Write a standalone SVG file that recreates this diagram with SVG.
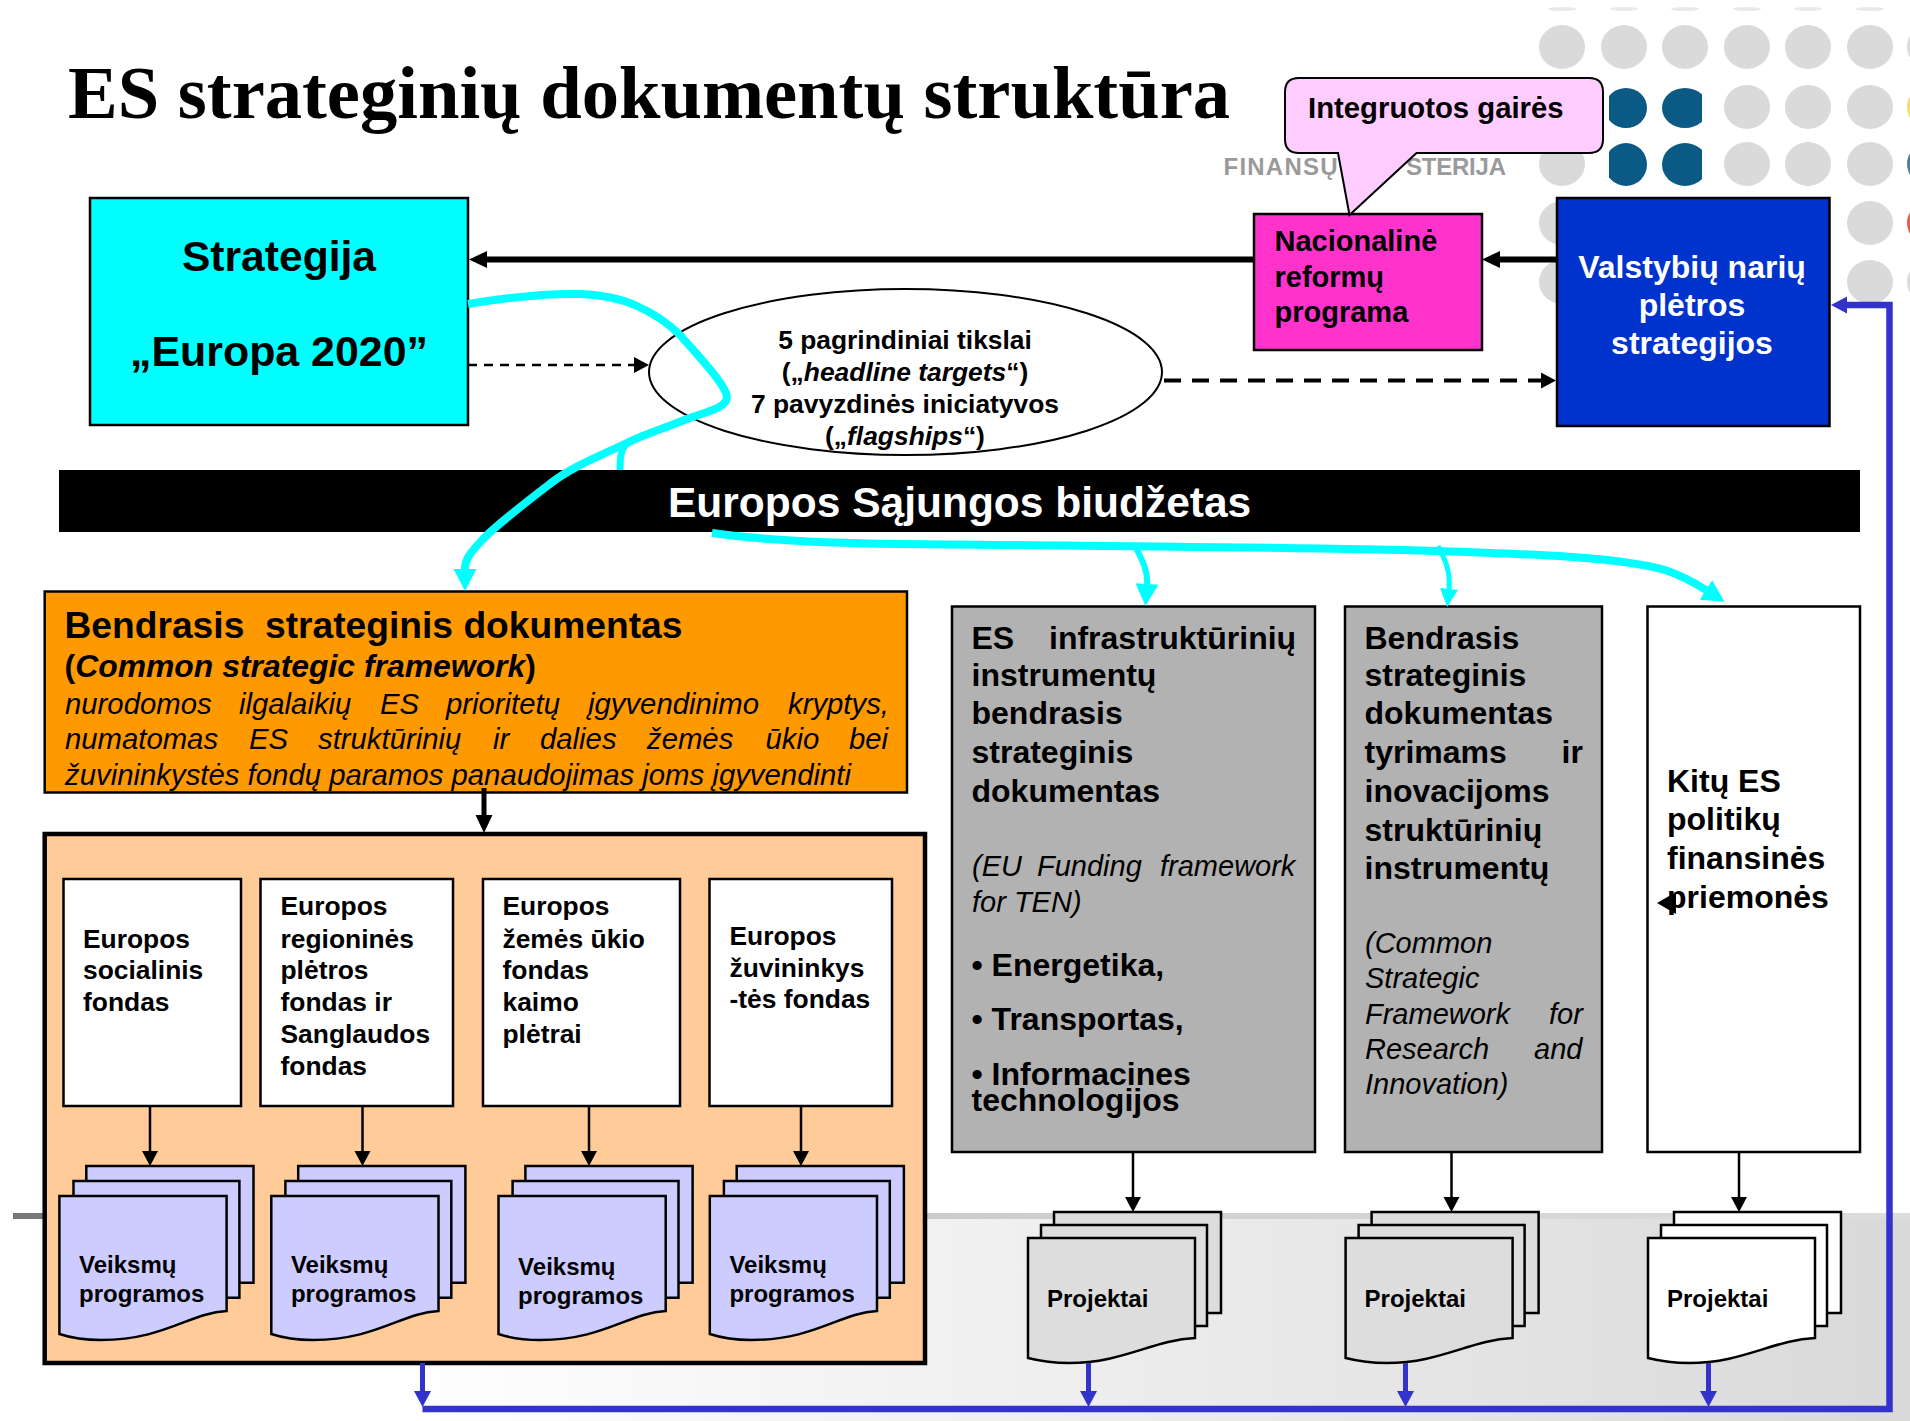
<svg xmlns="http://www.w3.org/2000/svg" xmlns:xlink="http://www.w3.org/1999/xlink" width="1910" height="1421" viewBox="0 0 1910 1421">
<style>
text{font-family:"Liberation Sans",Arial,sans-serif;font-weight:700;fill:#000}
.s{stroke:#000;stroke-width:2.5}
.i text{font-weight:400;font-style:italic}
.bi{font-style:italic}
.t26{font-size:26.4px}.t29{font-size:29px}.t32{font-size:32px}.t24{font-size:24px}
.dot{fill:#dadada}
.fund{fill:#fff;stroke:#000;stroke-width:2.5}
.vp{fill:#ccf;stroke:#000;stroke-width:2.5}
.pg{fill:#ddd;stroke:#000;stroke-width:2.5}
.pw{fill:#fff;stroke:#000;stroke-width:2.5}
.thin{stroke:#000;stroke-width:2.5;fill:none;marker-end:url(#ah)}
.blue{stroke:#33c;stroke-width:5;fill:none;marker-end:url(#ab)}
.cy{stroke:#0ff;fill:none}
</style>
<defs>
<linearGradient id="bg" gradientUnits="userSpaceOnUse" x1="400" y1="0" x2="1900" y2="0"><stop offset="0" stop-color="#fff"/><stop offset="1" stop-color="#d9d9d9"/></linearGradient>
<linearGradient id="bar" gradientUnits="userSpaceOnUse" x1="13" y1="0" x2="1910" y2="0"><stop offset="0" stop-color="#777"/><stop offset=".48" stop-color="#ccc"/><stop offset="1" stop-color="#ddd"/></linearGradient>
<clipPath id="dk"><rect x="1609" y="80" width="93" height="110"/></clipPath>
<marker id="ak" markerUnits="userSpaceOnUse" markerWidth="20" markerHeight="20" refX="0" refY="10" orient="auto" overflow="visible"><path d="M0,1.500L18,10L0,18.500z" fill="#000"/></marker>
<marker id="ah" markerUnits="userSpaceOnUse" markerWidth="16" markerHeight="18" refX="0" refY="9" orient="auto" overflow="visible"><path d="M0,1L15,9L0,17z" fill="#000"/></marker>
<marker id="ab" markerUnits="userSpaceOnUse" markerWidth="18" markerHeight="18" refX="0" refY="9" orient="auto" overflow="visible"><path d="M0,.5L16,9L0,17.500z" fill="#33c"/></marker>
<marker id="ac" markerUnits="userSpaceOnUse" markerWidth="24" markerHeight="24" refX="0" refY="12" orient="auto" overflow="visible"><path d="M0,.5L22,12L0,23.500z" fill="#0ff"/></marker>
<marker id="acs" markerUnits="userSpaceOnUse" markerWidth="20" markerHeight="20" refX="0" refY="10" orient="auto" overflow="visible"><path d="M0,1L18,10L0,19z" fill="#0ff"/></marker>
<path id="front-doc" d="M0,0H167.200V115C130,117 105,144 41.600,144C28,144 12,142 0,138Z"/>
<path id="proj-doc" d="M0,0H167V100C125,102 95,125 41,125C27,125 12,123 0,120Z"/>
</defs>

<g id="background">
<rect x="0" y="1216" width="1910" height="205" fill="url(#bg)"/>
<rect x="13" y="1213" width="1897" height="6" fill="url(#bar)"/>
<g fill="#e9e9e9">
<ellipse cx="1562" cy="9" rx="14" ry="2"/><ellipse cx="1624" cy="9" rx="14" ry="2"/><ellipse cx="1685" cy="9" rx="14" ry="2"/><ellipse cx="1747" cy="9" rx="14" ry="2"/><ellipse cx="1808" cy="9" rx="14" ry="2"/><ellipse cx="1870" cy="9" rx="14" ry="2"/>
</g>
<g class="dot">
<ellipse cx="1562" cy="47" rx="23" ry="22"/><ellipse cx="1624" cy="47" rx="23" ry="22"/><ellipse cx="1685" cy="47" rx="23" ry="22"/><ellipse cx="1747" cy="47" rx="23" ry="22"/><ellipse cx="1808" cy="47" rx="23" ry="22"/><ellipse cx="1870" cy="47" rx="23" ry="22"/><ellipse cx="1930" cy="47" rx="23" ry="22"/>
<ellipse cx="1747" cy="107" rx="23" ry="22"/><ellipse cx="1808" cy="107" rx="23" ry="22"/><ellipse cx="1870" cy="107" rx="23" ry="22"/>
<ellipse cx="1562" cy="164" rx="23" ry="22"/><ellipse cx="1747" cy="164" rx="23" ry="22"/><ellipse cx="1808" cy="164" rx="23" ry="22"/><ellipse cx="1870" cy="164" rx="23" ry="22"/>
<ellipse cx="1562" cy="223" rx="23" ry="22"/><ellipse cx="1870" cy="223" rx="23" ry="22"/>
<ellipse cx="1562" cy="282" rx="23" ry="22"/><ellipse cx="1870" cy="282" rx="23" ry="22"/><ellipse cx="1930" cy="282" rx="23" ry="22"/>
</g>
<ellipse cx="1930" cy="107" rx="23" ry="22" fill="#f4dc6a"/>
<ellipse cx="1930" cy="164" rx="23" ry="22" fill="#4d7f96"/>
<ellipse cx="1930" cy="223" rx="23" ry="22" fill="#e0604c"/>
<g fill="#0b5a85" clip-path="url(#dk)">
<ellipse cx="1626" cy="108" rx="21" ry="20"/><ellipse cx="1685" cy="108" rx="23" ry="20"/>
<ellipse cx="1626" cy="164.500" rx="21" ry="21.500"/><ellipse cx="1685" cy="164.500" rx="23" ry="21.500"/>
</g>
<text x="1223.500" y="175" font-size="24" textLength="114" style="fill:#9a9a9a">FINANSŲ</text>
<text x="1406" y="175" font-size="24" textLength="100" style="fill:#9a9a9a">STERIJA</text>
</g>

<text id="title" x="68" y="118" font-size="74" textLength="1162" lengthAdjust="spacingAndGlyphs" style="font-family:'Liberation Serif','Times New Roman',serif">ES strateginių dokumentų struktūra</text>

<g id="node-strategija">
<rect x="90" y="198" width="378" height="227" fill="#0ff" class="s"/>
<text x="279" y="271" font-size="42.600" text-anchor="middle">Strategija</text>
<text x="279" y="365.500" font-size="42.900" text-anchor="middle">„Europa 2020”</text>
</g>
<g id="node-nacionaline">
<rect x="1254" y="214" width="228" height="136" fill="#f3c" class="s"/>
<text x="1274.500" y="251" class="t29">Nacionalinė</text>
<text x="1274.500" y="287" class="t29">reformų</text>
<text x="1274.500" y="322" class="t29">programa</text>
</g>
<g id="node-gaires">
<path d="M1299,78H1589Q1603,78 1603,92V139Q1603,153 1589,153H1416.500L1349.500,215L1338,153H1299Q1285,153 1285,139V92Q1285,78 1299,78Z" fill="#fcf" stroke="#000" stroke-width="2"/>
<text x="1308" y="118" font-size="29.300">Integruotos gairės</text>
</g>
<g id="node-valstybiu">
<rect x="1557" y="198" width="272.500" height="228" fill="#03c" class="s"/>
<g text-anchor="middle" font-size="32">
<text x="1692" y="278" style="fill:#fff">Valstybių narių</text>
<text x="1692" y="316" style="fill:#fff">plėtros</text>
<text x="1692" y="354" style="fill:#fff">strategijos</text>
</g>
</g>
<g id="node-tikslai">
<ellipse cx="905.500" cy="372" rx="256.500" ry="83" fill="#fff" stroke="#000" stroke-width="2"/>
<g text-anchor="middle" class="t26">
<text x="905" y="349">5 pagrindiniai tikslai</text>
<text x="905" y="381">(„<tspan class="bi">headline targets</tspan>“)</text>
<text x="905" y="413">7 pavyzdinės iniciatyvos</text>
<text x="905" y="445">(„<tspan class="bi">flagships</tspan>“)</text>
</g>
</g>
<g id="node-biudzetas">
<rect x="59" y="470" width="1801" height="62" fill="#000"/>
<text x="668" y="517" font-size="42.500" style="fill:#fff">Europos Sąjungos biudžetas</text>
</g>
<g id="node-bendrasis">
<rect x="44.700" y="591.500" width="862.300" height="201" fill="#f90" class="s"/>
<text x="64.500" y="638" font-size="37.200" style="white-space:pre">Bendrasis  strateginis dokumentas</text>
<text x="64.500" y="677" font-size="31.900">(<tspan class="bi">Common strategic framework</tspan>)</text>
<g class="i" font-size="29.300">
<text y="714"><tspan x="65">nurodomos</tspan> <tspan x="239">ilgalaikių</tspan> <tspan x="380">ES</tspan> <tspan x="446">prioritetų</tspan> <tspan x="588">įgyvendinimo</tspan> <tspan x="788">kryptys,</tspan></text>
<text y="749"><tspan x="65">numatomas</tspan> <tspan x="249">ES</tspan> <tspan x="318">struktūrinių</tspan> <tspan x="493">ir</tspan> <tspan x="540">dalies</tspan> <tspan x="647">žemės</tspan> <tspan x="765.500">ūkio</tspan> <tspan x="849">bei</tspan></text>
<text x="65" y="785" textLength="786" lengthAdjust="spacingAndGlyphs">žuvininkystės fondų paramos panaudojimas joms įgyvendinti</text>
</g>
</g>
<g id="node-fondai">
<rect x="44.700" y="834" width="880.300" height="529" fill="#fc9" stroke="#000" stroke-width="4.500"/>
</g>
<g id="node-esf">
<rect x="63.500" y="879" width="177.500" height="227" class="fund"/>
<g class="t26"><text x="83" y="948">Europos</text><text x="83" y="979">socialinis</text><text x="83" y="1011">fondas</text></g>
</g>
<g id="node-erpf">
<rect x="260.500" y="879" width="192.500" height="227" class="fund"/>
<g class="t26"><text x="280.500" y="915">Europos</text><text x="280.500" y="948">regioninės</text><text x="280.500" y="979">plėtros</text><text x="280.500" y="1011">fondas ir</text><text x="280.500" y="1043">Sanglaudos</text><text x="280.500" y="1075">fondas</text></g>
</g>
<g id="node-ezuf">
<rect x="483" y="879" width="197" height="227" class="fund"/>
<g class="t26"><text x="502.500" y="915">Europos</text><text x="502.500" y="948">žemės ūkio</text><text x="502.500" y="979">fondas</text><text x="502.500" y="1011">kaimo</text><text x="502.500" y="1043">plėtrai</text></g>
</g>
<g id="node-ezf">
<rect x="709.500" y="879" width="182.500" height="227" class="fund"/>
<g class="t26"><text x="729.500" y="945">Europos</text><text x="729.500" y="977">žuvininkys</text><text x="729.500" y="1008">-tės fondas</text></g>
</g>
<g id="node-vp1">
<path class="vp" d="M86.300,1166H253.500V1282.700H230V1190H86.300Z"/><path class="vp" d="M73.500,1181H239.400V1297.700H220V1200H73.500Z"/>
<use xlink:href="#front-doc" href="#front-doc" x="59.400" y="1196" class="vp"/>
<text x="79" y="1273" class="t24">Veiksmų</text><text x="79" y="1302" class="t24">programos</text>
</g>
<g id="node-vp2" transform="translate(211.900,0)">
<path class="vp" d="M86.300,1166H253.500V1282.700H230V1190H86.300Z"/><path class="vp" d="M73.500,1181H239.400V1297.700H220V1200H73.500Z"/>
<use xlink:href="#front-doc" href="#front-doc" x="59.400" y="1196" class="vp"/>
<text x="79" y="1273" class="t24">Veiksmų</text><text x="79" y="1302" class="t24">programos</text>
</g>
<g id="node-vp3" transform="translate(439.100,0)">
<path class="vp" d="M86.300,1166H253.500V1282.700H230V1190H86.300Z"/><path class="vp" d="M73.500,1181H239.400V1297.700H220V1200H73.500Z"/>
<use xlink:href="#front-doc" href="#front-doc" x="59.400" y="1196" class="vp"/>
<text x="79" y="1275" class="t24">Veiksmų</text><text x="79" y="1304" class="t24">programos</text>
</g>
<g id="node-vp4" transform="translate(650.400,0)">
<path class="vp" d="M86.300,1166H253.500V1282.700H230V1190H86.300Z"/><path class="vp" d="M73.500,1181H239.400V1297.700H220V1200H73.500Z"/>
<use xlink:href="#front-doc" href="#front-doc" x="59.400" y="1196" class="vp"/>
<text x="79" y="1273" class="t24">Veiksmų</text><text x="79" y="1302" class="t24">programos</text>
</g>
<g id="node-infra">
<rect x="952" y="606.500" width="363" height="545.500" fill="#b2b2b2" class="s"/>
<g class="t32">
<text y="649"><tspan x="971.500">ES</tspan> <tspan x="1049">infrastruktūrinių</tspan></text>
<text x="971.500" y="686">instrumentų</text><text x="971.500" y="724">bendrasis</text><text x="971.500" y="763">strateginis</text><text x="971.500" y="802">dokumentas</text>
</g>
<g class="i" font-size="29">
<text y="876"><tspan x="972">(EU</tspan> <tspan x="1037">Funding</tspan> <tspan x="1160">framework</tspan></text>
<text x="972" y="912">for TEN)</text>
</g>
<g class="t32">
<text x="971.500" y="976">• Energetika,</text><text x="971.500" y="1030">• Transportas,</text><text x="971.500" y="1085">• Informacines</text><text x="971.500" y="1111">technologijos</text>
</g>
</g>
<g id="node-tyrimai">
<rect x="1345" y="606.500" width="257" height="545.500" fill="#b2b2b2" class="s"/>
<g class="t32">
<text x="1364.500" y="649">Bendrasis</text><text x="1364.500" y="686">strateginis</text><text x="1364.500" y="724">dokumentas</text>
<text y="763"><tspan x="1364.500">tyrimams</tspan> <tspan x="1561.500">ir</tspan></text>
<text x="1364.500" y="802">inovacijoms</text><text x="1364.500" y="841">struktūrinių</text><text x="1364.500" y="879">instrumentų</text>
</g>
<g class="i" font-size="29">
<text x="1365" y="953">(Common</text><text x="1365" y="988">Strategic</text>
<text y="1024"><tspan x="1365">Framework</tspan> <tspan x="1549">for</tspan></text>
<text y="1059"><tspan x="1365">Research</tspan> <tspan x="1534">and</tspan></text>
<text x="1365" y="1094">Innovation)</text>
</g>
</g>
<g id="node-kitu">
<rect x="1647.500" y="606.500" width="212.500" height="545.500" fill="#fff" class="s"/>
<g class="t32"><text x="1667" y="792">Kitų ES</text><text x="1667" y="830">politikų</text><text x="1667" y="869">finansinės</text><text x="1667" y="908">priemonės</text></g>
</g>
<g id="node-proj1">
<path class="pg" d="M1054,1212H1221V1313H1200V1230H1054Z"/><path class="pg" d="M1041,1225H1207V1326H1190V1240H1041Z"/>
<use xlink:href="#proj-doc" href="#proj-doc" x="1028" y="1238" class="pg"/>
<text x="1047" y="1307" class="t24">Projektai</text>
</g>
<g id="node-proj2" transform="translate(317.600,0)">
<path class="pg" d="M1054,1212H1221V1313H1200V1230H1054Z"/><path class="pg" d="M1041,1225H1207V1326H1190V1240H1041Z"/>
<use xlink:href="#proj-doc" href="#proj-doc" x="1028" y="1238" class="pg"/>
<text x="1047" y="1307" class="t24">Projektai</text>
</g>
<g id="node-proj3" transform="translate(620,0)">
<path class="pw" d="M1054,1212H1221V1313H1200V1230H1054Z"/><path class="pw" d="M1041,1225H1207V1326H1190V1240H1041Z"/>
<use xlink:href="#proj-doc" href="#proj-doc" x="1028" y="1238" class="pw"/>
<text x="1047" y="1307" class="t24">Projektai</text>
</g>

<g id="connectors">
<line x1="1254" y1="259.500" x2="487" y2="259.500" stroke="#000" stroke-width="6" marker-end="url(#ak)"/>
<line x1="1557" y1="259.500" x2="1500" y2="259.500" stroke="#000" stroke-width="6" marker-end="url(#ak)"/>
<line x1="468" y1="365" x2="634" y2="365" stroke="#000" stroke-width="2.500" stroke-dasharray="9 7" marker-end="url(#ah)"/>
<line x1="1164" y1="380.500" x2="1541" y2="380.500" stroke="#000" stroke-width="4" stroke-dasharray="17 11" marker-end="url(#ah)"/>
<line x1="484" y1="788" x2="484" y2="815" stroke="#000" stroke-width="5" marker-end="url(#ak)"/>
<line x1="150" y1="1106" x2="150" y2="1151" class="thin"/><line x1="362.500" y1="1106" x2="362.500" y2="1151" class="thin"/><line x1="589" y1="1106" x2="589" y2="1151" class="thin"/><line x1="801" y1="1106" x2="801" y2="1151" class="thin"/>
<line x1="1133" y1="1152" x2="1133" y2="1197" class="thin"/><line x1="1451.500" y1="1152" x2="1451.500" y2="1197" class="thin"/><line x1="1739" y1="1152" x2="1739" y2="1197" class="thin"/>
<line x1="422.500" y1="1363" x2="422.500" y2="1391" class="blue"/><line x1="1088.500" y1="1363" x2="1088.500" y2="1391" class="blue"/><line x1="1405.500" y1="1363" x2="1405.500" y2="1391" class="blue"/><line x1="1708.500" y1="1363" x2="1708.500" y2="1391" class="blue"/>
<path d="M422.500,1409H1889.500V305H1847" fill="none" stroke="#33c" stroke-width="6.500" marker-end="url(#ab)"/>
<path class="cy" stroke-width="8" marker-end="url(#ac)" d="M468,304C505,298 545,293 580,294C605,295 622,299 637,306C655,314 670,325 680,335C700,358 726,385 727,397C727,408 705,412 687,419C665,428 645,434 631,441C600,456 575,465 551,483C525,503 500,522 484,538C472,551 465,558 465,569"/>
<path class="cy" stroke-width="7" d="M631,441C622,446 620,452 620,470"/>
<path class="cy" stroke-width="8" marker-end="url(#ac)" d="M712,533C760,540 820,543 900,544C1100,546 1300,547 1435,551C1530,554 1620,557 1665,570C1683,576 1695,583 1706,590"/>
<path class="cy" stroke-width="6" marker-end="url(#ac)" d="M1135,546C1142,560 1148,570 1147,584"/>
<path class="cy" stroke-width="5" marker-end="url(#acs)" d="M1438,546C1444,558 1451,570 1449,589"/>
<path d="M1657,903L1676,892V914Z" fill="#000"/>
</g>
</svg>
